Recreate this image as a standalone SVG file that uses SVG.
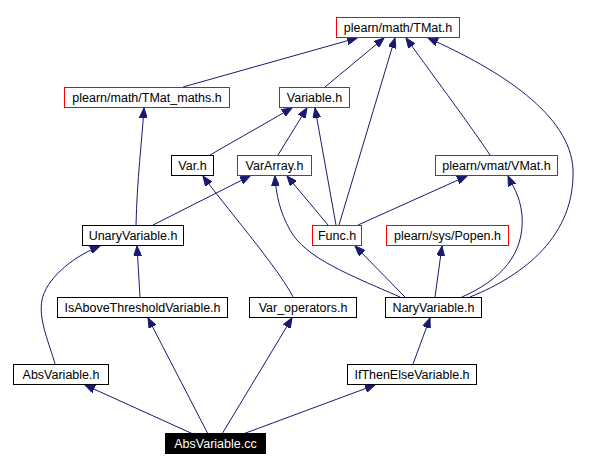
<svg xmlns="http://www.w3.org/2000/svg" width="614" height="470" viewBox="0 0 614 470">
<style>
.n rect{fill:#fff;stroke:#000;stroke-width:1}
.n.r rect{stroke:#ff0000}
.n text{font-family:"Liberation Sans",Arial,sans-serif;font-size:12.5px;fill:#000;text-anchor:middle}
.n.s rect{fill:#000;stroke:#000}
.n.s text{fill:#fff}
.e path{fill:none;stroke:#191970;stroke-width:1;marker-end:url(#ah)}
</style>
<defs>
<marker id="ah" markerUnits="userSpaceOnUse" markerWidth="11" markerHeight="8" refX="10" refY="4" orient="auto">
<path d="M0,0 L10,4 L0,8 z" fill="#191970" stroke="#191970" stroke-width="1"/>
</marker>
</defs>
<rect width="614" height="470" fill="#fff"/>
<g id="edges" class="e">
<path d="M183,87 L357,38"/>
<path d="M325,87 L384,38"/>
<path d="M339,225 L395,38"/>
<path d="M490,155 C470,125 440,85 406,38"/>
<path d="M470,297 C525,275 575,235 573,170 C571,115 500,70 428,38"/>
<path d="M462,297 C500,280 525,255 522,215 C520,195 512,185 508,176"/>
<path d="M136,225 C137,180 142,140 144,108"/>
<path d="M210,155 L292,108"/>
<path d="M278,155 L307,108"/>
<path d="M336,225 L315,108"/>
<path d="M153,225 L250,176"/>
<path d="M328,225 L287,176"/>
<path d="M400,297 C350,275 305,258 290,230 C280,212 276,195 275,176"/>
<path d="M358,225 L467,176"/>
<path d="M405,297 L355,246"/>
<path d="M435,297 L442,246"/>
<path d="M293,297 C280,270 220,200 203,176"/>
<path d="M140,297 L137,246"/>
<path d="M55,364 C50,345 38,320 42,300 C46,280 70,258 100,246"/>
<path d="M413,364 L430,318"/>
<path d="M193,434 L85,385"/>
<path d="M208,434 L148,318"/>
<path d="M222,434 L292,318"/>
<path d="M243,434 L375,385"/>
</g>
<g id="n_tmat" class="n r"><rect x="336.5" y="17.5" width="123" height="20"/><text x="398" y="32">plearn/math/TMat.h</text></g>
<g id="n_tmat_maths" class="n r"><rect x="64.5" y="87.5" width="165" height="20"/><text x="147" y="102">plearn/math/TMat_maths.h</text></g>
<g id="n_variable" class="n r"><rect x="279.5" y="87.5" width="70" height="20"/><text x="314.5" y="102">Variable.h</text></g>
<g id="n_var" class="n"><rect x="171.5" y="155.5" width="42" height="20"/><text x="192.5" y="170">Var.h</text></g>
<g id="n_vararray" class="n r"><rect x="237.5" y="155.5" width="74" height="20"/><text x="274.5" y="170">VarArray.h</text></g>
<g id="n_vmat" class="n r"><rect x="435.5" y="155.5" width="122" height="20"/><text x="496.5" y="170">plearn/vmat/VMat.h</text></g>
<g id="n_unary" class="n"><rect x="82.5" y="225.5" width="101" height="20"/><text x="133" y="240">UnaryVariable.h</text></g>
<g id="n_func" class="n r"><rect x="312.5" y="225.5" width="49" height="20"/><text x="337" y="240">Func.h</text></g>
<g id="n_popen" class="n r"><rect x="386.5" y="225.5" width="122" height="20"/><text x="447.5" y="240">plearn/sys/Popen.h</text></g>
<g id="n_isabove" class="n"><rect x="57.5" y="297.5" width="170" height="20"/><text x="142.5" y="312">IsAboveThresholdVariable.h</text></g>
<g id="n_varops" class="n"><rect x="249.5" y="297.5" width="107" height="20"/><text x="303" y="312">Var_operators.h</text></g>
<g id="n_nary" class="n"><rect x="385.5" y="297.5" width="96" height="20"/><text x="433.5" y="312">NaryVariable.h</text></g>
<g id="n_absh" class="n"><rect x="13.5" y="364.5" width="95" height="20"/><text x="61" y="379">AbsVariable.h</text></g>
<g id="n_ifthen" class="n"><rect x="347.5" y="364.5" width="129" height="20"/><text x="412" y="379">IfThenElseVariable.h</text></g>
<g id="n_abscc" class="n s"><rect x="165.5" y="433.5" width="100" height="20"/><text x="215.5" y="448">AbsVariable.cc</text></g>
</svg>
